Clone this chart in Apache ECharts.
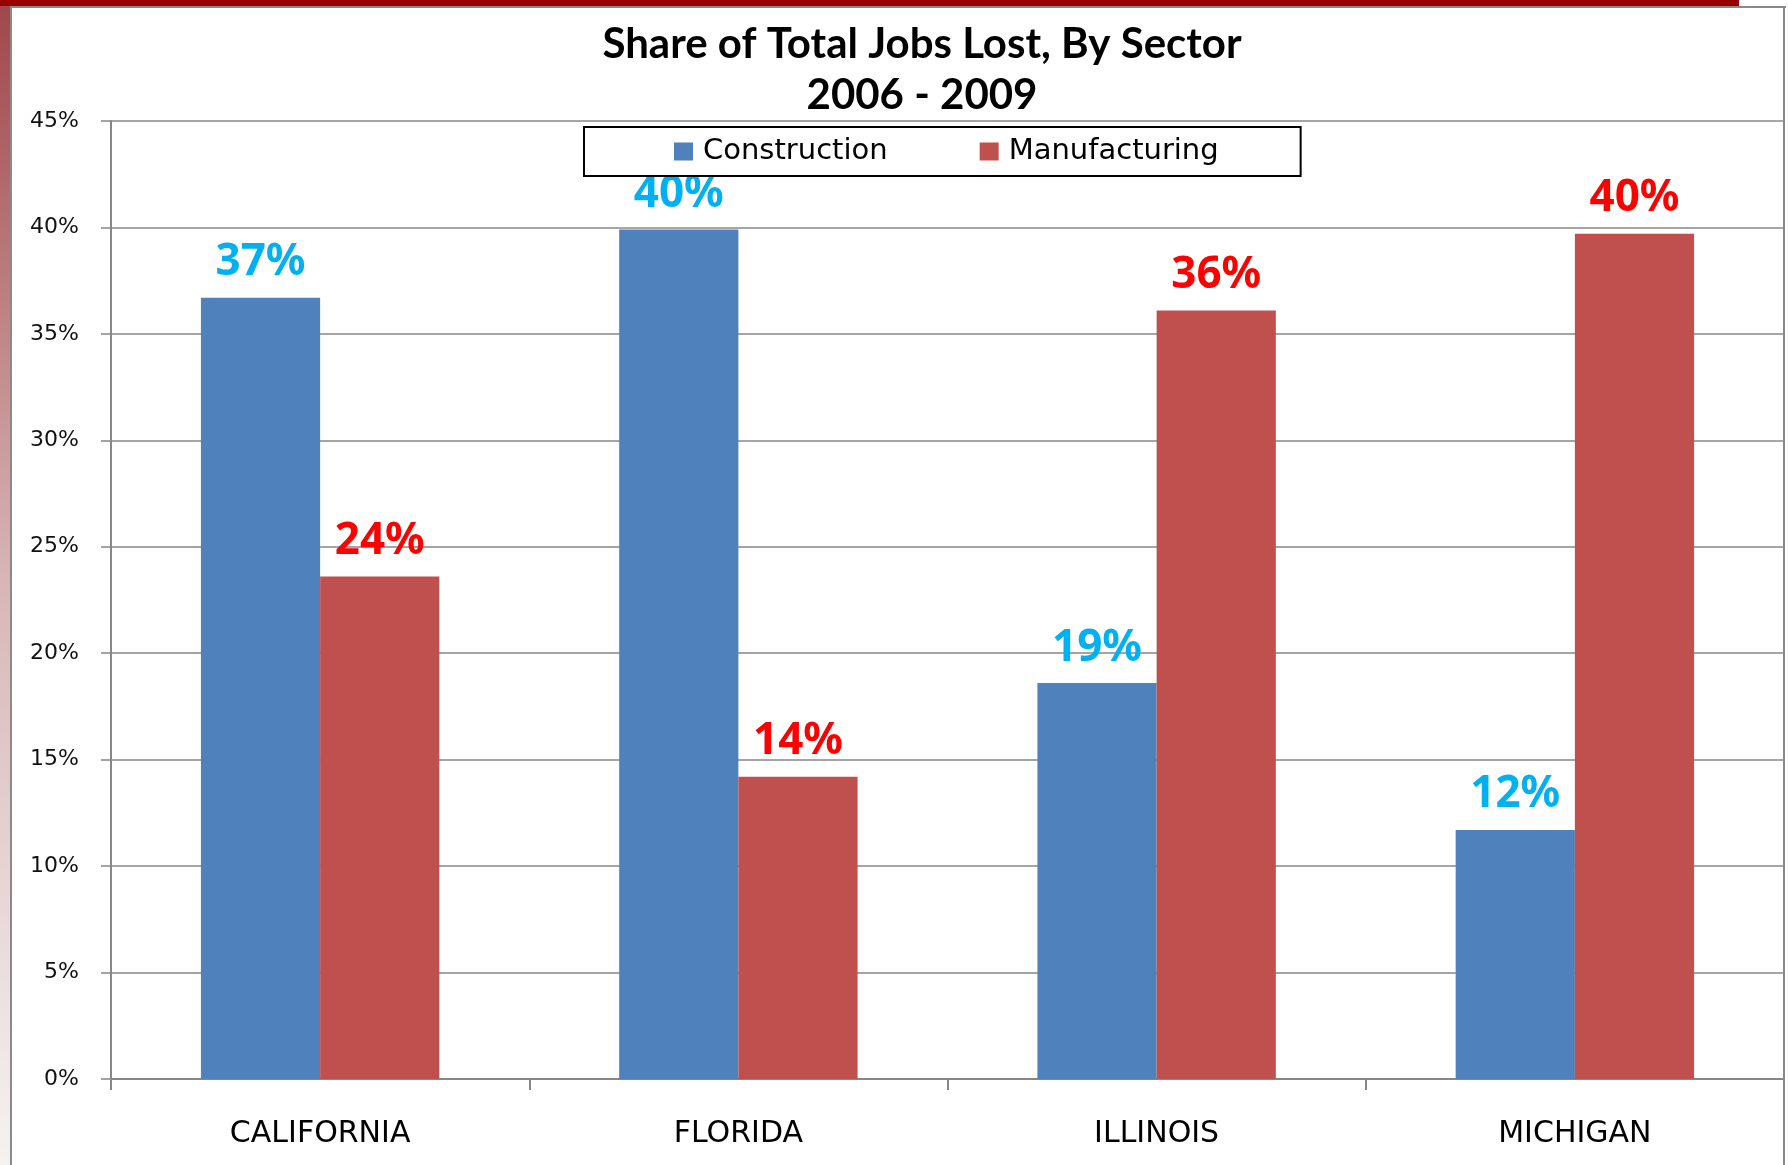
<!DOCTYPE html>
<html>
<head>
<meta charset="utf-8">
<script src="https://cdn.jsdelivr.net/npm/echarts@6/dist/echarts.min.js"></script>
<style>
  html, body { margin: 0; padding: 0; background: #fff; }
  #chart { width: 1788px; height: 1165px; }
</style>
</head>
<body>
<div id="chart"></div>
<script>
// Share of total jobs lost by sector, 2006 - 2009 (percent)
const states = ['CALIFORNIA', 'FLORIDA', 'ILLINOIS', 'MICHIGAN'];
const construction = [36.7, 39.9, 18.6, 11.7];
const manufacturing = [23.6, 14.2, 36.1, 39.7];
const seriesNames = ['Construction', 'Manufacturing'];
const titleLines = ['Share of Total Jobs Lost, By Sector', '2006 - 2009'];

const W = 1788, H = 1165;
const gridColor = '#878787';

const chart = echarts.init(document.getElementById('chart'), null, { renderer: 'canvas' });

const pctLabel = (color) => ({
  show: true,
  position: 'top',
  distance: 13,
  formatter: (p) => Math.round(p.value) + '%',
  color: color,
  fontFamily: 'Noto Sans',
  fontWeight: 'bold',
  fontSize: 44
});

chart.setOption({
  backgroundColor: '#ffffff',
  animation: false,
  title: {
    text: titleLines.join('\n'),
    left: 922,
    top: 19,
    textAlign: 'center',
    padding: 0,
    textStyle: {
      fontFamily: 'Lato',
      fontWeight: 'bold',
      fontSize: 42,
      lineHeight: 51,
      color: '#000'
    }
  },
  legend: {
    data: seriesNames,
    left: 584,
    top: 127,
    orient: 'horizontal',
    icon: 'rect',
    itemWidth: 19,
    itemHeight: 18,
    itemGap: 92,
    padding: [10, 82, 10, 90],
    backgroundColor: '#ffffff',
    borderColor: '#000000',
    borderWidth: 2,
    textStyle: {
      fontFamily: 'DejaVu Sans',
      fontSize: 29,
      color: '#000',
      padding: [0, 0, 0, 5]
    }
  },
  grid: {
    left: 111,
    right: 4,
    top: 121,
    bottom: 86,
    outerBoundsMode: 'none'
  },
  xAxis: {
    type: 'category',
    data: states,
    axisLine: { show: true, lineStyle: { color: gridColor, width: 2 } },
    axisTick: { show: true, length: 11, lineStyle: { color: gridColor, width: 2 } },
    axisLabel: {
      margin: 40,
      fontFamily: 'DejaVu Sans',
      fontSize: 30,
      color: '#000'
    },
    splitLine: { show: false }
  },
  yAxis: {
    type: 'value',
    min: 0,
    max: 45,
    interval: 5,
    axisLine: { show: true, lineStyle: { color: gridColor, width: 2 } },
    axisTick: { show: true, length: 10, lineStyle: { color: gridColor, width: 1.5 } },
    axisLabel: {
      formatter: '{value}%',
      margin: 32,
      fontFamily: 'DejaVu Sans',
      fontSize: 22,
      color: '#111'
    },
    splitLine: { show: true, lineStyle: { color: gridColor, width: 1.5 } }
  },
  series: [
    {
      name: seriesNames[0],
      type: 'bar',
      data: construction,
      barGap: '0%',
      barCategoryGap: '43%',
      itemStyle: { color: '#4f81bd' },
      label: pctLabel('#00b0f0')
    },
    {
      name: seriesNames[1],
      type: 'bar',
      data: manufacturing,
      barGap: '0%',
      barCategoryGap: '43%',
      itemStyle: { color: '#c0504d' },
      label: pctLabel('#ff0000')
    }
  ],
  graphic: [
    // slide frame: dark red band on top, fading strip on the left
    { type: 'rect', z: 100, silent: true, shape: { x: 0, y: 0, width: 10, height: H },
      style: { fill: new echarts.graphic.LinearGradient(0, 0, 0, 1, [
        { offset: 0, color: '#a0464a' },
        { offset: 0.5, color: '#d8b6b7' },
        { offset: 1, color: '#f6f2f2' }
      ]) } },
    { type: 'rect', z: 101, silent: true, shape: { x: 0, y: 0, width: 1739, height: 6 },
      style: { fill: '#990000' } },
    // chart border
    { type: 'rect', z: 101, silent: true, shape: { x: 10, y: 6, width: 1776, height: 2 },
      style: { fill: '#8a8a8a' } },
    { type: 'rect', z: 101, silent: true, shape: { x: 10, y: 6, width: 2, height: H - 6 },
      style: { fill: '#8a8a8a' } },
    { type: 'rect', z: 101, silent: true, shape: { x: 1783, y: 6, width: 2, height: H - 6 },
      style: { fill: '#8a8a8a' } }
  ]
});
</script>
</body>
</html>
